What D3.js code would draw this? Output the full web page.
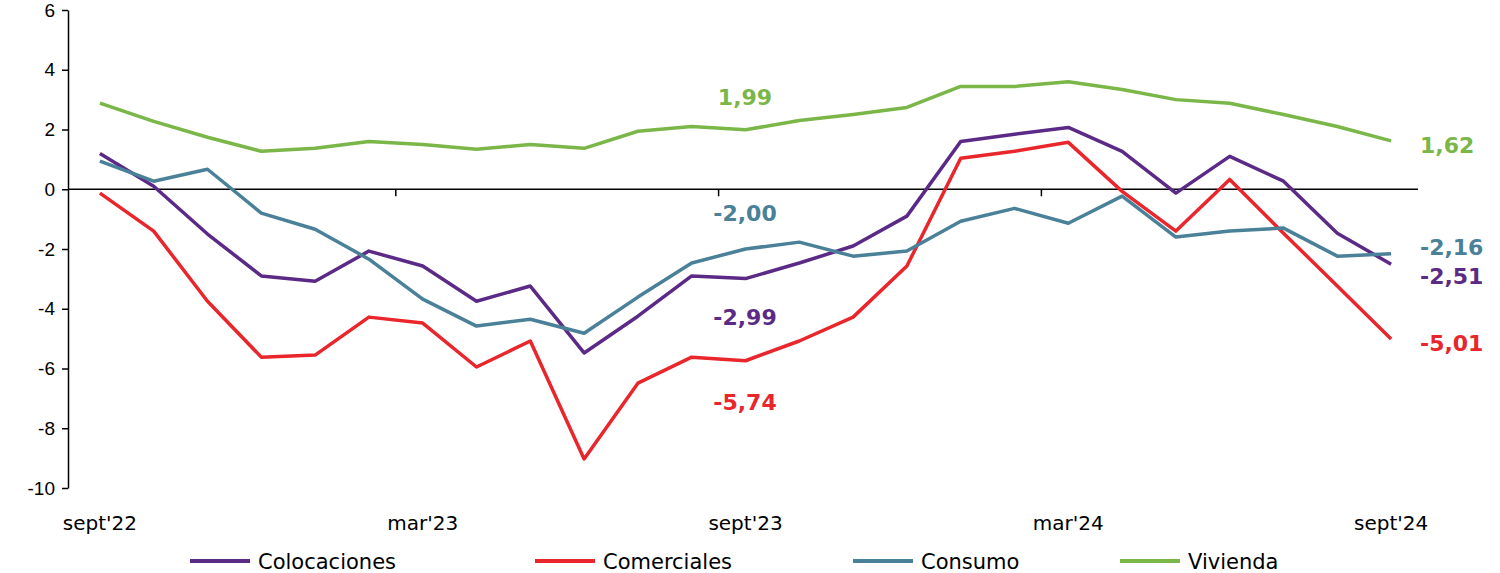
<!DOCTYPE html>
<html><head><meta charset="utf-8">
<script src="https://cdn.jsdelivr.net/npm/d3@7"></script>
<style>body{margin:0;background:#fff}</style>
</head><body><div id="chart"></div>
<script>
const months = ["sept'22","oct'22","nov'22","dic'22","ene'23","feb'23","mar'23","abr'23","may'23","jun'23","jul'23","ago'23",
"sept'23","oct'23","nov'23","dic'23","ene'24","feb'24","mar'24","abr'24","may'24","jun'24","jul'24","ago'24","sept'24"];
const tickLabels = ["sept'22","mar'23","sept'23","mar'24","sept'24"];
const colocaciones = [1.2,0.1,-1.5,-2.9,-3.08,-2.07,-2.57,-3.75,-3.24,-5.48,-4.25,-2.9,-2.99,-2.47,-1.9,-0.9,1.6,1.84,2.07,1.27,-0.13,1.1,0.27,-1.47,-2.51];
const comerciales = [-0.13,-1.4,-3.75,-5.62,-5.55,-4.28,-4.48,-5.95,-5.08,-9.03,-6.49,-5.62,-5.74,-5.08,-4.28,-2.57,1.04,1.27,1.57,-0.07,-1.4,0.33,-1.47,-3.24,-5.01];
const consumo = [0.94,0.27,0.67,-0.8,-1.34,-2.34,-3.68,-4.58,-4.35,-4.82,-3.61,-2.47,-2.0,-1.77,-2.24,-2.07,-1.07,-0.64,-1.14,-0.23,-1.6,-1.4,-1.3,-2.24,-2.16];
const vivienda = [2.88,2.27,1.74,1.27,1.37,1.6,1.5,1.34,1.5,1.37,1.94,2.1,1.99,2.3,2.5,2.74,3.44,3.44,3.6,3.34,3.0,2.88,2.5,2.1,1.62];

const series = [
  {name:"Colocaciones", values:colocaciones, color:"#5b2a86"},
  {name:"Comerciales", values:comerciales, color:"#e8262b"},
  {name:"Consumo", values:consumo, color:"#4a8199"},
  {name:"Vivienda", values:vivienda, color:"#7ab648"}
];

const W = 1500, H = 573;
const svg = d3.select("#chart").append("svg").attr("width", W).attr("height", H)
  .style("font-family", "'DejaVu Sans', Verdana, sans-serif");

const x = d3.scaleBand().domain(months).range([73, 1418]);
const y = d3.scaleLinear().domain([-10, 6]).range([488, 10]);
const cx = m => x(m) + x.bandwidth() / 2;

// y axis (plain hyphen for negatives, like the original)
const yAxis = svg.append("g").attr("transform", "translate(68,0)")
  .call(d3.axisLeft(y).tickValues(d3.range(-10, 7, 2)).tickFormat(d => String(d))
    .tickSize(6).tickSizeOuter(0));
yAxis.selectAll("text").style("font-size", "19px").attr("fill", "#000").attr("dx", "-4");
yAxis.selectAll("line, path").attr("stroke", "#000").attr("stroke-width", 1.5);

// zero line with ticks at category boundaries
svg.append("line").attr("x1", 68).attr("x2", 1418).attr("y1", y(0)).attr("y2", y(0))
  .attr("stroke", "#000").attr("stroke-width", 1.5);
[6, 12, 18].forEach(i => {
  const tx = x(months[i]);
  svg.append("line").attr("x1", tx).attr("x2", tx).attr("y1", y(0)).attr("y2", y(0) + 7)
    .attr("stroke", "#000").attr("stroke-width", 1.5);
});

// x labels
svg.selectAll(".xl").data(tickLabels).enter().append("text")
  .attr("x", d => cx(d)).attr("y", 530).attr("text-anchor", "middle")
  .style("font-size", "20px").text(d => d);

const line = d3.line().x((d, i) => cx(months[i])).y(d => y(d));
svg.selectAll(".line").data(series).enter().append("path")
  .attr("fill", "none").attr("stroke", d => d.color).attr("stroke-width", 3.5)
  .attr("stroke-linejoin", "round").attr("d", d => line(d.values));

// value labels
const fmt = v => v.toFixed(2).replace(".", ",");
const labels = [
  {s:3, i:12, x:745, y:105, anchor:"middle"},
  {s:2, i:12, x:745, y:221, anchor:"middle"},
  {s:0, i:12, x:745, y:325, anchor:"middle"},
  {s:1, i:12, x:745, y:410, anchor:"middle"},
  {s:3, i:24, x:1420, y:153, anchor:"start"},
  {s:2, i:24, x:1420, y:255, anchor:"start"},
  {s:0, i:24, x:1420, y:284, anchor:"start"},
  {s:1, i:24, x:1420, y:351, anchor:"start"}
];
svg.selectAll(".vl").data(labels).enter().append("text")
  .attr("x", d => d.x).attr("y", d => d.y).attr("text-anchor", d => d.anchor)
  .attr("fill", d => series[d.s].color).style("font-size", "22px").style("font-weight", "bold")
  .text(d => fmt(series[d.s].values[d.i]));

// legend
const legX = [190, 535, 853, 1120];
const lg = svg.selectAll(".lg").data(series).enter().append("g")
  .attr("transform", (d, i) => `translate(${legX[i]},561)`);
lg.append("line").attr("x1", 0).attr("x2", 60).attr("stroke", d => d.color).attr("stroke-width", 4);
lg.append("text").attr("x", 68).attr("y", 8).style("font-size", "21px").text(d => d.name);
</script>
</body></html>
